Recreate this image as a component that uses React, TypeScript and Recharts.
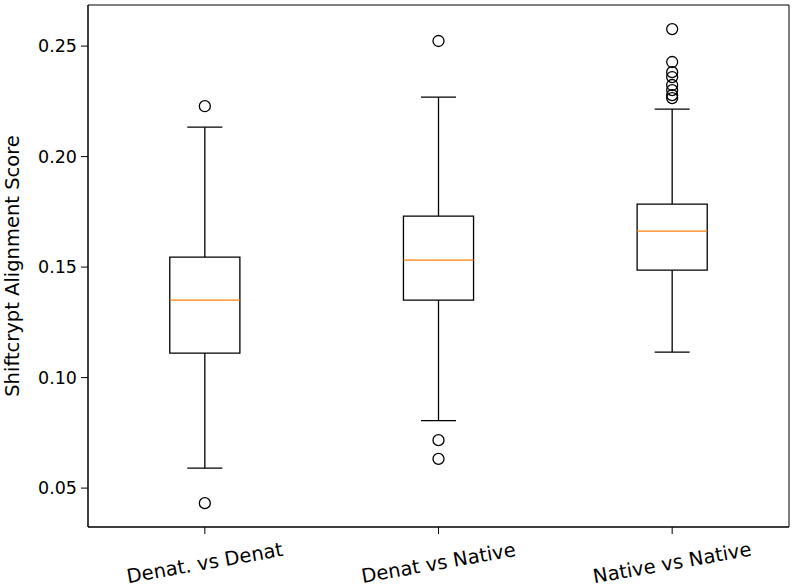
import {
  ComposedChart,
  XAxis,
  YAxis,
  Scatter,
  ReferenceArea,
  ReferenceLine,
} from 'recharts';

const categories = ['Denat. vs Denat', 'Denat vs Native', 'Native vs Native'];
const whiskerLow = [0.059, 0.0805, 0.1115];
const q1 = [0.1111, 0.1351, 0.1486];
const medians = [0.1351, 0.1532, 0.1663];
const q3 = [0.1545, 0.1731, 0.1785];
const whiskerHigh = [0.2133, 0.2269, 0.2215];
const outliers = [
  [0.2228, 0.0432],
  [0.2523, 0.0717, 0.0632],
  [0.2577, 0.2428, 0.2382, 0.236, 0.2324, 0.2301, 0.2278, 0.2265],
];
const yTicks = [0.05, 0.1, 0.15, 0.2, 0.25];

const Y_MIN = 0.0324;
const Y_MAX = 0.2686;
const BOX_HALF = 0.15;
const CAP_HALF = 0.075;
const FONT = 'DejaVu Sans';
const TICK_FONT = 17.5;
const LABEL_FONT = 19.5;

const outlierPoints = outliers.flatMap((vals, i) =>
  vals.map((v) => ({ x: i + 1, y: v }))
);

const XTick = (props: any) => {
  const { x, y, payload } = props;
  const cy = y + 27;
  return (
    <text
      x={x}
      y={cy}
      textAnchor="middle"
      dominantBaseline="central"
      transform={`rotate(-10, ${x}, ${cy})`}
      fontSize={LABEL_FONT}
      fontFamily={FONT}
      fill="#000"
    >
      {categories[payload.value - 1]}
    </text>
  );
};

const OutlierDot = (props: any) => (
  <circle cx={props.cx} cy={props.cy} r={5.5} fill="none" stroke="#000" strokeWidth={1.3} />
);

export default function App() {
  return (
    <div style={{ position: 'absolute', left: 0, top: 0, background: '#fff' }}>
      <ComposedChart
        width={795}
        height={587}
        data={outlierPoints}
        margin={{ top: 5, right: 6, bottom: 0, left: 0 }}
      >
        <XAxis
          dataKey="x"
          type="number"
          domain={[0.5, 3.5]}
          ticks={[1, 2, 3]}
          tick={<XTick />}
          tickSize={7}
          height={60}
          stroke="#000"
          interval={0}
        />
        <YAxis
          type="number"
          domain={[Y_MIN, Y_MAX]}
          ticks={yTicks}
          tickFormatter={(v: number) => v.toFixed(2)}
          tick={{ fontSize: TICK_FONT, fontFamily: FONT, fill: '#000' }}
          tickSize={7}
          tickMargin={4}
          width={88}
          stroke="#000"
          allowDataOverflow
          label={{
            content: () => (
              <text
                x={12}
                y={266}
                textAnchor="middle"
                dominantBaseline="central"
                transform="rotate(-90, 12, 266)"
                fontSize={LABEL_FONT}
                fontFamily={FONT}
                fill="#000"
              >
                Shiftcrypt Alignment Score
              </text>
            ),
          }}
        />
        <ReferenceArea
          x1={0.5}
          x2={3.5}
          y1={Y_MIN}
          y2={Y_MAX}
          fill="none"
          stroke="#000"
          strokeWidth={1}
          ifOverflow="visible"
        />
        {categories.map((c, i) => {
          const p = i + 1;
          return [
            <ReferenceLine
              key={`wl-${c}`}
              segment={[{ x: p, y: whiskerLow[i] }, { x: p, y: q1[i] }]}
              stroke="#000"
              strokeWidth={1.3}
            />,
            <ReferenceLine
              key={`wh-${c}`}
              segment={[{ x: p, y: q3[i] }, { x: p, y: whiskerHigh[i] }]}
              stroke="#000"
              strokeWidth={1.3}
            />,
            <ReferenceLine
              key={`cl-${c}`}
              segment={[{ x: p - CAP_HALF, y: whiskerLow[i] }, { x: p + CAP_HALF, y: whiskerLow[i] }]}
              stroke="#000"
              strokeWidth={1.3}
            />,
            <ReferenceLine
              key={`ch-${c}`}
              segment={[{ x: p - CAP_HALF, y: whiskerHigh[i] }, { x: p + CAP_HALF, y: whiskerHigh[i] }]}
              stroke="#000"
              strokeWidth={1.3}
            />,
            <ReferenceArea
              key={`box-${c}`}
              x1={p - BOX_HALF}
              x2={p + BOX_HALF}
              y1={q1[i]}
              y2={q3[i]}
              fill="none"
              fillOpacity={0}
              stroke="#000"
              strokeWidth={1.3}
              strokeOpacity={1}
            />,
            <ReferenceLine
              key={`med-${c}`}
              segment={[{ x: p - BOX_HALF, y: medians[i] }, { x: p + BOX_HALF, y: medians[i] }]}
              stroke="#ff7f0e"
              strokeWidth={1.3}
            />,
          ];
        })}
        <Scatter data={outlierPoints} dataKey="y" shape={<OutlierDot />} isAnimationActive={false} />
      </ComposedChart>
    </div>
  );
}
